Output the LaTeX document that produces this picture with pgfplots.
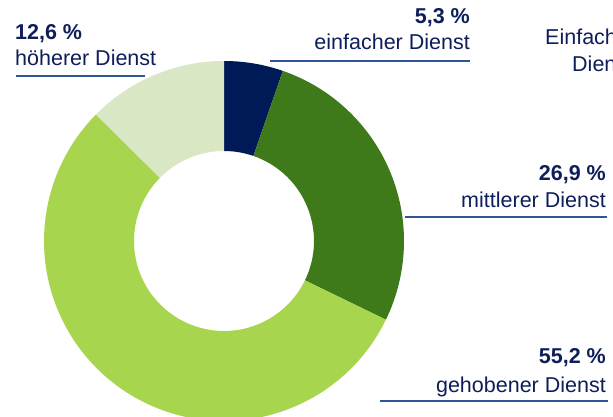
\documentclass[border=0pt]{standalone}
\usepackage{pgfplots}
\pgfplotsset{compat=1.18}
\usepackage{fontspec}
\setmainfont{Liberation Sans}
\definecolor{cA}{HTML}{001A57}
\definecolor{cB}{HTML}{3F7A1A}
\definecolor{cC}{HTML}{A8D54E}
\definecolor{cD}{HTML}{D9E7C5}
\definecolor{txt}{HTML}{0E1E5B}
\definecolor{ln}{HTML}{2E5597}
\begin{document}
\begin{tikzpicture}
\useasboundingbox (0,0) rectangle (613pt,417pt);
\clip (0,0) rectangle (613pt,417pt);
\begin{axis}[at={(0,0)}, anchor=south west, scale only axis,
  width=613pt, height=417pt, xmin=0, xmax=613, ymin=0, ymax=417,
  y dir=reverse, hide axis, clip=false]
\addplot[draw=none] coordinates {(0,0) (613,417)};
\pgfplotsextra{
  \def\cx{224}\def\cy{241}\def\ro{180}\def\ri{90}
  \xdef\acur{90}
  \foreach \v/\c in {5.3/cA, 26.9/cB, 55.2/cC, 12.6/cD}{
    \pgfmathsetmacro{\aa}{\acur}
    \pgfmathsetmacro{\ab}{\acur-3.6*\v}
    \fill[\c] (axis cs:{\cx+\ro*cos(\aa)},{\cy-\ro*sin(\aa)})
      arc[start angle=\aa, end angle=\ab, radius=\ro pt]
      -- (axis cs:{\cx+\ri*cos(\ab)},{\cy-\ri*sin(\ab)})
      arc[start angle=\ab, end angle=\aa, radius=\ri pt] -- cycle;
    \xdef\acur{\ab}
  }
}
\begin{scope}[every node/.style={text=txt, inner sep=0pt, font=\fontsize{21.5}{25}\selectfont}]
% einfacher
\node[anchor=base east, font=\fontsize{21.5}{25}\selectfont\bfseries] at (axis cs:470,23.5) {5,3 \%};
\node[anchor=base east] at (axis cs:470,50) {einfacher Dienst};
\draw[ln, line width=1.6pt] (axis cs:270,61) -- (axis cs:470,61);
% hoeherer
\node[anchor=base west, font=\fontsize{21.5}{25}\selectfont\bfseries] at (axis cs:15,40) {12,6 \%};
\node[anchor=base west] at (axis cs:15,66) {höherer Dienst};
\draw[ln, line width=1.6pt] (axis cs:16,76) -- (axis cs:145,76);
% mittlerer
\node[anchor=base east, font=\fontsize{21.5}{25}\selectfont\bfseries] at (axis cs:606,180) {26,9 \%};
\node[anchor=base east] at (axis cs:606,207) {mittlerer Dienst};
\draw[ln, line width=1.6pt] (axis cs:405,217) -- (axis cs:607,217);
% gehobener
\node[anchor=base east, font=\fontsize{21.5}{25}\selectfont\bfseries] at (axis cs:606,363) {55,2 \%};
\node[anchor=base east] at (axis cs:606,392) {gehobener Dienst};
\draw[ln, line width=1.6pt] (axis cs:380,401) -- (axis cs:608,401);
% clipped label
\node[anchor=base west] at (axis cs:545,45) {Einfacher};
\node[anchor=base west] at (axis cs:572,72) {Dienst};
\end{scope}
\end{axis}
\end{tikzpicture}
\end{document}
